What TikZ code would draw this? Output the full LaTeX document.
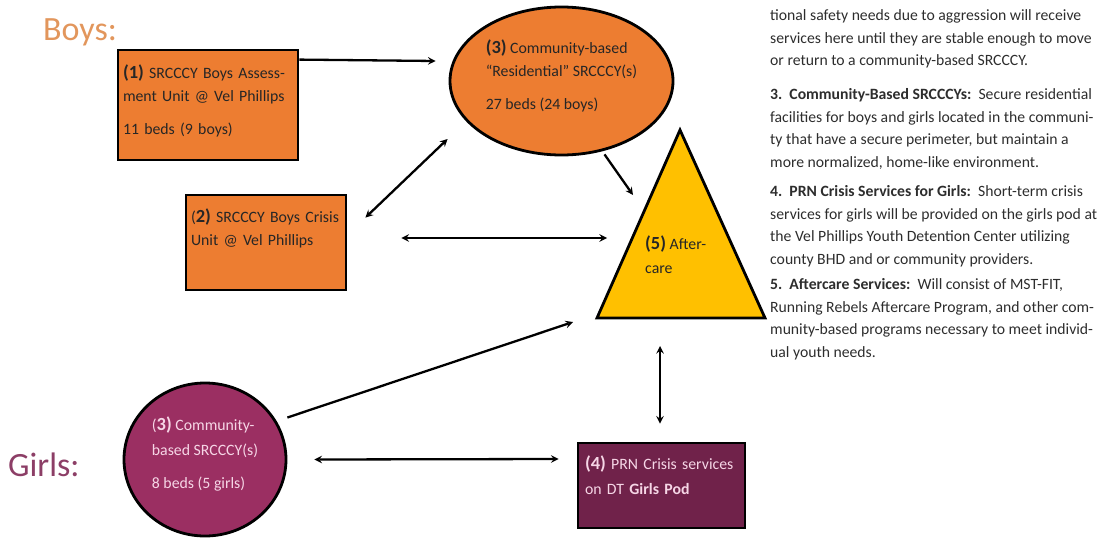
\documentclass[tikz,border=0pt]{standalone}
\usepackage{fontspec}
\setmainfont{Carlito}
\usetikzlibrary{shapes.geometric, arrows, positioning, calc}
\usepackage{xcolor}
\definecolor{boysorange}{RGB}{237, 125, 49}
\definecolor{boyslabel}{RGB}{226, 150, 92}
\definecolor{aftergold}{RGB}{255, 192, 0}
\definecolor{girlsplum}{RGB}{155, 47, 98}
\definecolor{girlspod}{RGB}{112, 34, 74}
\definecolor{girlslabel}{RGB}{140, 62, 102}
\definecolor{girlstext}{RGB}{246, 214, 230}
\definecolor{notegray}{RGB}{45, 45, 45}
\tikzstyle{arrow} = [line width=2.3pt,-stealth,black]
\tikzstyle{dblarrow} = [line width=2.3pt,stealth-stealth,black]
\tikzstyle{boysbox} = [draw, rectangle, line width=2.8pt, fill=boysorange, text=black!85, align=left, inner xsep=5pt, font=\fontsize{15.8}{23}\selectfont]
\tikzstyle{girlsbox} = [draw, line width=2.8pt, fill=girlsplum, text=girlstext, align=left, inner sep=0pt, font=\fontsize{15.8}{25}\selectfont]
\tikzstyle{note} = [anchor=north west, inner sep=0pt, align=left, text=notegray, font=\fontsize{15.7}{22.4}\selectfont]
\newcommand{\unitno}[1]{\textbf{\fontsize{18.5}{23}\selectfont #1}}

\begin{document}
\begin{tikzpicture}[x=1pt, y=-1pt]
\useasboundingbox (0,0) rectangle (1105,538);

% Group labels
\node[anchor=base west, inner sep=0pt, text=boyslabel, font=\fontsize{34}{38}\selectfont] (boyslbl) at (43,40) {Boys:};
\node[anchor=base west, inner sep=0pt, text=girlslabel, font=\fontsize{34}{38}\selectfont] (girlslbl) at (8,476) {Girls:};

% Boys units
\node[boysbox, minimum width=180pt, minimum height=110pt, text width=170pt] (box1) at (208,105) {
    \unitno{(1)} SRCCCY Boys Assess-\\
    ment Unit @ Vel Phillips\\[10pt]
    11 beds (9 boys)\\[-12pt]\mbox{}
};

\node[boysbox, ellipse, minimum width=223pt, minimum height=148pt, inner sep=0pt] (boysres) at (561.5,81) {
    \unitno{(3)} Community-based\\
    “Residential” SRCCCY(s)\\[10pt]
    27 beds (24 boys)\\[-10pt]\mbox{}
};

\node[boysbox, minimum width=160pt, minimum height=95pt, text width=150pt] (box2) at (266,242.5) {
    (\textbf{\fontsize{18.5}{23}\selectfont 2)} SRCCCY Boys Crisis\\
    Unit @ Vel Phillips\\[7pt]\mbox{}
};

% Aftercare triangle
\draw[line width=2.8pt, fill=aftergold, line join=miter] (680,130) coordinate (apex) -- (765,318) coordinate (baseR) -- (597,318) coordinate (baseL) -- cycle;
\node[anchor=west, align=left, inner sep=0pt, text=black!85, font=\fontsize{15.8}{24}\selectfont] (afterlbl) at (645,255) {
    \unitno{(5)} After-\\
    care
};

% Girls units
\node[girlsbox, ellipse, minimum width=162pt, minimum height=153pt] (girlsres) at (205,459.5) {
    (\textbf{\fontsize{18.5}{25}\selectfont 3)} Community-\\
    based SRCCCY(s)\\[8pt]
    8 beds (5 girls)\\[-12pt]\mbox{}
};

\node[girlsbox, rectangle, fill=girlspod, minimum width=167pt, minimum height=85pt, text width=153pt, inner xsep=7pt] (pod) at (661.5,485.5) {
    \unitno{(4)} PRN Crisis services\\
    on DT \textbf{Girls Pod}\\[-4pt]\mbox{}
};

% Arrows
\draw[arrow] ($(box1.north east)+(0,11)$) -- ($(boysres.west)+(-13,-20)$);
\draw[dblarrow] ($(boysres.west)+(-1,58)$) -- ($(box2.north east)+(18,24)$);
\draw[arrow] ($(boysres.south)+(43,-2)$) -- ($(apex)+(-47,65)$);
\draw[dblarrow] ($(box2.east)+(54,-4.5)$) -- ($(apex)+(-73,108)$);
\draw[arrow] ($(girlsres.east)+(0,-42)$) -- ($(baseL)+(-24,4)$);
\draw[dblarrow] ($(baseL)+(63,28)$) -- ($(pod.north)+(-1.5,-18)$);
\draw[dblarrow] ($(girlsres.east)+(27,0)$) -- ($(pod.west)+(-18,-26.5)$);

% Service notes
\node[note] (note2) at (770,5) {
    \strut tional safety needs due to aggression will receive\\
    services here until they are stable enough to move\\
    or return to a community-based SRCCCY.
};
\node[note] (note3) at (770,84) {
    \strut\textbf{3.\ \ Community-Based SRCCCYs:}\ \ Secure residential\\
    facilities for boys and girls located in the communi-\\
    ty that have a secure perimeter, but maintain a\\
    more normalized, home-like environment.
};
\node[note] (note4) at (770,181) {
    \strut\textbf{4.\ \ PRN Crisis Services for Girls:}\ \ Short-term crisis\\
    services for girls will be provided on the girls pod at\\
    the Vel Phillips Youth Detention Center utilizing\\
    county BHD and or community providers.
};
\node[note] (note5) at (770,274) {
    \strut\textbf{5.\ \ Aftercare Services:}\ \ Will consist of MST-FIT,\\
    Running Rebels Aftercare Program, and other com-\\
    munity-based programs necessary to meet individ-\\
    ual youth needs.
};
\end{tikzpicture}
\end{document}
